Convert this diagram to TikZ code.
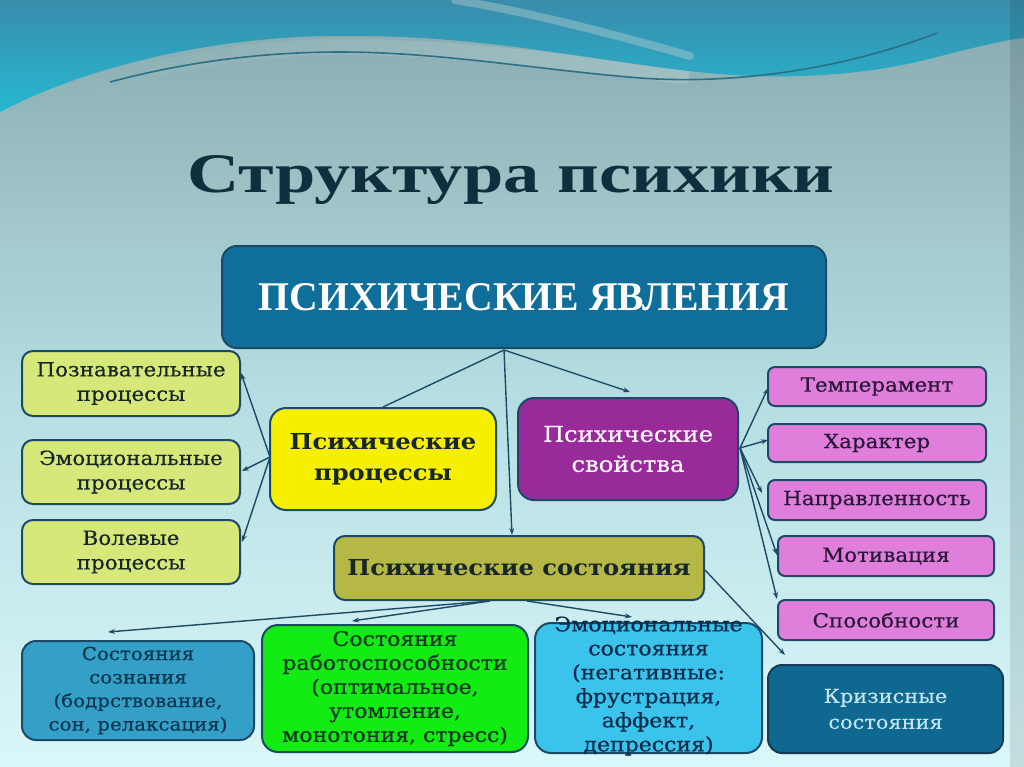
\documentclass[tikz,border=0pt]{standalone}
\usepackage{fontspec}
\setmainfont{DejaVu Serif}
\newfontfamily\titlefont{Liberation Serif}
\newfontfamily\wideserif[FakeStretch=1.1,FakeBold=0.5]{DejaVu Serif}
\newfontfamily\wideserifb[FakeStretch=1.1]{DejaVu Serif Bold}
\usetikzlibrary{arrows.meta,fadings}
\definecolor{bgtop}{HTML}{86A9AD}
\definecolor{bgmid}{HTML}{B4DDE1}
\definecolor{bgbot}{HTML}{DAF7F9}
\definecolor{wavetop}{HTML}{3A8CAC}
\definecolor{wavebot}{HTML}{25B8D0}
\definecolor{silver}{HTML}{B2CACC}
\definecolor{waveline}{HTML}{2C7088}
\definecolor{titlecol}{HTML}{0E2F3E}
\definecolor{edge}{HTML}{1C4A66}
\definecolor{mainfill}{HTML}{106E9A}
\definecolor{lgreen}{HTML}{D6E87A}
\definecolor{yell}{HTML}{F6F000}
\definecolor{purp}{HTML}{992A99}
\definecolor{olive}{HTML}{B6B845}
\definecolor{pink}{HTML}{E07EDC}
\definecolor{sozfill}{HTML}{34A0C8}
\definecolor{rabfill}{HTML}{12EC12}
\definecolor{emofill}{HTML}{3AC4EC}
\definecolor{krizfill}{HTML}{0E6890}
\definecolor{darktext}{HTML}{172628}
\definecolor{pinktext}{HTML}{2A1838}
\definecolor{soztext}{HTML}{0A3650}
\definecolor{rabtext}{HTML}{0A3A1E}
\definecolor{emotext}{HTML}{0A2A4A}
\definecolor{kriztext}{HTML}{C2E4EE}
\tikzset{
  box/.style={draw=edge, line width=2pt, rounded corners=11pt, align=center, inner sep=0pt},
  conn/.style={draw=edge, line width=1.4pt},
  arr/.style={conn, -{Stealth[length=7pt,width=5pt]}},
  fleft/.style={font=\wideserif\fontsize{19.5}{24.5}\selectfont},
  fpink/.style={font=\wideserif\fontsize{19.5}{24}\selectfont},
}
\begin{document}
\begin{tikzpicture}[x=1pt,y=-1pt]
\useasboundingbox (0,0) rectangle (1024,767);
% background
\shade[top color=bgtop, bottom color=bgbot, middle color=bgmid] (0,0) rectangle (1024,767);
\draw[silver, line width=16pt, opacity=0.55, path fading=west]
  (60,102) .. controls (140,68) and (235,49) .. (330,47)
  .. controls (470,46) and (580,66) .. (690,76);
\shade[top color=wavetop, bottom color=wavebot]
  (0,0) -- (0,112) .. controls (80,70) and (200,38) .. (330,36)
  .. controls (470,34) and (560,55) .. (680,70)
  .. controls (760,80) and (850,80) .. (937,57)
  .. controls (980,46) and (1005,40) .. (1024,38) -- (1024,0) -- cycle;
\draw[silver, line width=8pt, opacity=0.45, line cap=round]
  (455,0) .. controls (530,12) and (620,36) .. (690,56);
\draw[waveline, line width=1.6pt]
  (110,82) .. controls (200,58) and (280,52) .. (340,52)
  .. controls (440,52) and (540,70) .. (640,78)
  .. controls (720,84) and (830,74) .. (937,33);
\fill[black, opacity=0.1] (1010,0) rectangle (1024,767);
% title
\node[anchor=base, text=titlecol] (title) at (511,193)
  {\resizebox{647pt}{37pt}{\titlefont\bfseries Структура психики}};
% main box
\node[box, fill=mainfill, draw=edge, rounded corners=15pt, minimum width=604pt, minimum height=102pt, text=white] (main) at (524,297)
  {\resizebox{530pt}{27pt}{\titlefont\bfseries ПСИХИЧЕСКИЕ ЯВЛЕНИЯ}};
% left boxes
\node[box, fill=lgreen, minimum width=218pt, minimum height=65pt, text=darktext, fleft] (pozn) at (131,383.5) {Познавательные\\процессы};
\node[box, fill=lgreen, minimum width=218pt, minimum height=64pt, text=darktext, fleft] (emo) at (131,472) {Эмоциональные\\процессы};
\node[box, fill=lgreen, minimum width=218pt, minimum height=64pt, text=darktext, fleft] (vol) at (131,552) {Волевые\\процессы};
% centre boxes
\node[box, fill=yell, rounded corners=16pt, minimum width=226pt, minimum height=102pt, text=darktext, font=\wideserifb\fontsize{22}{31}\selectfont] (proc) at (383,459) {Психические\\процессы};
\node[box, fill=purp, rounded corners=16pt, minimum width=220pt, minimum height=102pt, text=white!92!pink, font=\wideserif\fontsize{22}{30}\selectfont] (svoy) at (628,449) {Психические\\свойства};
\node[box, fill=olive, minimum width=370pt, minimum height=64pt, text=darktext, font=\wideserifb\fontsize{22}{28}\selectfont] (sost) at (519,568) {Психические состояния};
% pink boxes
\node[box, fill=pink, rounded corners=7pt, minimum width=218pt, minimum height=39pt, text=pinktext, fpink] (temp) at (877,386.5) {Темперамент};
\node[box, fill=pink, rounded corners=7pt, minimum width=218pt, minimum height=38pt, text=pinktext, fpink] (har) at (877,443) {Характер};
\node[box, fill=pink, rounded corners=7pt, minimum width=218pt, minimum height=40pt, text=pinktext, fpink] (napr) at (877,500) {Направленность};
\node[box, fill=pink, rounded corners=7pt, minimum width=216pt, minimum height=40pt, text=pinktext, fpink] (motiv) at (886,556) {Мотивация};
\node[box, fill=pink, rounded corners=7pt, minimum width=216pt, minimum height=40pt, text=pinktext, fpink] (spos) at (886,620) {Способности};
% bottom boxes
\node[box, fill=sozfill, rounded corners=14pt, minimum width=232pt, minimum height=99pt] (soz) at (138,690.5) {};
\node[text=soztext, font=\wideserif\fontsize{18}{23.5}\selectfont, align=center] (soztxt) at (soz.center) {Состояния\\сознания\\(бодрствование,\\сон, релаксация)};
\node[box, fill=rabfill, rounded corners=16pt, minimum width=266pt, minimum height=127pt] (rab) at (395,688.5) {};
\node[text=rabtext, font=\wideserif\fontsize{20}{24}\selectfont, align=center] (rabtxt) at (rab.center) {Состояния\\работоспособности\\(оптимальное,\\утомление,\\монотония, стресс)};
\node[box, fill=emofill, rounded corners=16pt, minimum width=227pt, minimum height=130pt] (emost) at (648.5,688) {};
\node[text=emotext, font=\wideserif\fontsize{20}{24}\selectfont, align=center] (emosttxt) at ([yshift=2pt]emost.center) {Эмоциональные\\состояния\\(негативные:\\фрустрация,\\аффект,\\депрессия)};
\node[box, fill=krizfill, draw=edge!80!black, rounded corners=14pt, minimum width=235pt, minimum height=88pt] (kriz) at (885.5,709) {};
\node[text=kriztext, font=\wideserif\fontsize{19}{26}\selectfont, align=center] (kriztxt) at (kriz.center) {Кризисные\\состояния};
% connector ends
\coordinate (hubM) at (504,350);
\coordinate (svA) at (630,392);
\coordinate (stA) at (512,535);
\coordinate (hubP) at (270,457);
\coordinate (pzA) at (241,373);
\coordinate (emA) at (242,471);
\coordinate (voA) at (242,542);
\coordinate (hubS) at (740,448);
\coordinate (tmA) at (768,388);
\coordinate (hrA) at (768,440);
\coordinate (npA) at (762,493);
\coordinate (mtA) at (777,555);
\coordinate (spA) at (777,599);
\coordinate (hubR) at (705,570);
\coordinate (krA) at (785,655);
\coordinate (hubB1) at (490,601);
\coordinate (hubB2) at (527,601);
\coordinate (szA) at (108,632);
\coordinate (rbA) at (352,621);
\coordinate (esA) at (632,617);
% connectors
\draw[conn] (hubM) -- (proc.north);
\draw[arr] (hubM) -- (svA);
\draw[arr] (hubM) -- (stA);
\draw[arr] (hubP) -- (pzA);
\draw[arr] (hubP) -- (emA);
\draw[arr] (hubP) -- (voA);
\draw[arr] (hubS) -- (tmA);
\draw[arr] (hubS) -- (hrA);
\draw[arr] (hubS) -- (npA);
\draw[arr] (hubS) -- (mtA);
\draw[arr] (hubS) -- (spA);
\draw[arr] (hubR) -- (krA);
\draw[arr] (hubB1) -- (szA);
\draw[arr] (hubB1) -- (rbA);
\draw[arr] (hubB2) -- (esA);
\end{tikzpicture}
\end{document}
